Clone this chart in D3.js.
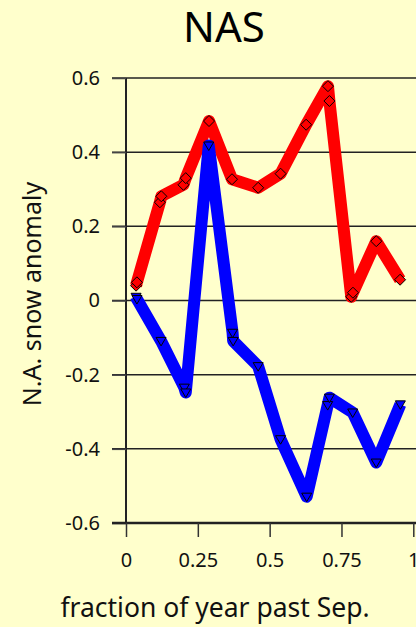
<!DOCTYPE html>
<html><head><meta charset="utf-8">
<script src="https://cdn.jsdelivr.net/npm/d3@7"></script>
<style>html,body{margin:0;padding:0;background:#ffffcc;}svg{display:block;}</style>
</head><body>
<svg id="c" width="416" height="627"></svg>
<script>
const title = "NAS";
const xLabel = "fraction of year past Sep.";
const yLabel = "N.A. snow anomaly";
const xTicks = [0, 0.25, 0.5, 0.75, 1];
const xTickLabels = ["0", "0.25", "0.5", "0.75", "1"];
const yTicks = [-0.6, -0.4, -0.2, 0, 0.2, 0.4, 0.6];
const yTickLabels = ["-0.6", "-0.4", "-0.2", "0", "0.2", "0.4", "0.6"];

const redX = [0.035, 0.038, 0.118, 0.123, 0.200, 0.208, 0.289, 0.369, 0.460, 0.538, 0.627, 0.703, 0.708, 0.784, 0.790, 0.871, 0.954];
const redY = [0.040, 0.049, 0.265, 0.281, 0.312, 0.330, 0.484, 0.327, 0.304, 0.342, 0.474, 0.578, 0.538, 0.010, 0.021, 0.160, 0.056];
const blueX = [0.035, 0.038, 0.122, 0.203, 0.208, 0.288, 0.371, 0.373, 0.460, 0.538, 0.629, 0.702, 0.708, 0.789, 0.871, 0.955];
const blueY = [0.010, 0.004, -0.109, -0.235, -0.248, 0.418, -0.087, -0.109, -0.177, -0.374, -0.529, -0.282, -0.262, -0.302, -0.437, -0.280];

const svg = d3.select("#c");
const font = "'Noto Sans', 'DejaVu Sans', sans-serif";
const x = d3.scaleLinear().domain([0, 1]).range([126, 413.3]);
const y = d3.scaleLinear().domain([-0.6, 0.6]).range([523, 78]);

svg.append("rect").attr("width", 416).attr("height", 627).attr("fill", "#ffffcc");

// grid lines
svg.append("g").selectAll("line").data(yTicks.filter(d => d !== -0.6)).join("line")
  .attr("x1", 112).attr("x2", 416)
  .attr("y1", d => y(d)).attr("y2", d => y(d))
  .attr("stroke", "#222").attr("stroke-width", 1.5);

// y axis
const yAxis = d3.axisLeft(y).tickValues(yTicks).tickFormat((d, i) => yTickLabels[i]).tickSize(14).tickPadding(12);
const gy = svg.append("g").attr("transform", `translate(${x(0)},0)`).call(yAxis);
gy.select(".domain").attr("stroke", "#222").attr("stroke-width", 2).attr("d", `M0,${y(0.6)}V${y(-0.6)}`);
gy.selectAll(".tick line").attr("stroke", "#444").attr("stroke-width", 1.5);
gy.selectAll("text").attr("font-family", font).attr("font-size", 20).attr("fill", "#111");

// x axis
const xAxis = d3.axisBottom(x).tickValues(xTicks).tickFormat((d, i) => xTickLabels[i]).tickSize(14).tickPadding(16);
const gx = svg.append("g").attr("transform", `translate(0,${y(-0.6)})`).call(xAxis);
gx.select(".domain").attr("stroke", "#222").attr("stroke-width", 2.5).attr("d", `M112,0H416`);
gx.selectAll(".tick line").attr("stroke", "#333").attr("stroke-width", 1.5);
gx.selectAll("text").attr("font-family", font).attr("font-size", 20).attr("fill", "#111");

const red = redX.map((v, i) => [v, redY[i]]);
const blue = blueX.map((v, i) => [v, blueY[i]]);
const line = d3.line().x(d => x(d[0])).y(d => y(d[1]));

svg.append("path").datum(red).attr("d", line).attr("fill", "none")
  .attr("stroke", "#ff0000").attr("stroke-width", 12).attr("stroke-linejoin", "round");
svg.append("path").datum(blue).attr("d", line).attr("fill", "none")
  .attr("stroke", "#0000ff").attr("stroke-width", 12).attr("stroke-linejoin", "round");

// markers
svg.append("g").selectAll("path").data(red).join("path")
  .attr("transform", d => `translate(${x(d[0])},${y(d[1])})`)
  .attr("d", "M0,-5.5L5.5,0L0,5.5L-5.5,0Z")
  .attr("fill", "#ff0000").attr("stroke", "#000").attr("stroke-width", 1);
svg.append("g").selectAll("path").data(blue).join("path")
  .attr("transform", d => `translate(${x(d[0])},${y(d[1])})`)
  .attr("d", "M-5,-3.5L5,-3.5L0,5Z")
  .attr("fill", "#0000ff").attr("stroke", "#000").attr("stroke-width", 1);

// title and labels
svg.append("text").attr("x", 224).attr("y", 42).attr("text-anchor", "middle")
  .attr("font-family", font).attr("font-size", 42).attr("fill", "#000").text(title);
svg.append("text").attr("x", 215).attr("y", 617).attr("text-anchor", "middle")
  .attr("font-family", font).attr("font-size", 26.5).attr("fill", "#111").text(xLabel);
svg.append("text").attr("transform", "translate(41,294) rotate(-90)").attr("text-anchor", "middle")
  .attr("font-family", font).attr("font-size", 25).attr("fill", "#111").text(yLabel);
</script>
</body></html>
